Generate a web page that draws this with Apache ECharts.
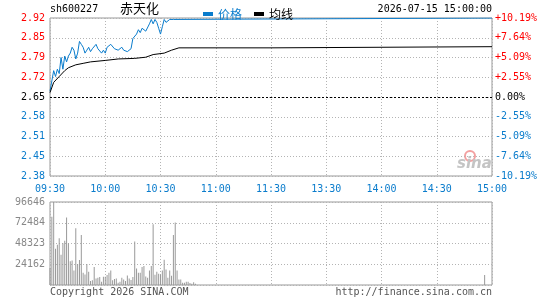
<!DOCTYPE html>
<html>
<head>
<meta charset="utf-8">
<script src="https://cdn.jsdelivr.net/npm/echarts@6/dist/echarts.min.js"></script>
<style>
  html, body { margin: 0; padding: 0; background: #fff; }
  #chart { width: 545px; height: 300px; }
</style>
</head>
<body>
<div id="chart"></div>
<script>
// 时间轴刻度 (分钟 0..240)
const timeLabels = ['09:30', '10:00', '10:30', '11:00', '11:30', '13:30', '14:00', '14:30', '15:00'];
// 价格刻度 (从下到上)
const priceLabels = ['2.38', '2.45', '2.51', '2.58', '2.65', '2.72', '2.79', '2.85', '2.92'];
const pctLabels = ['-10.19%', '-7.64%', '-5.09%', '-2.55%', '0.00%', '+2.55%', '+5.09%', '+7.64%', '+10.19%'];
// 成交量刻度
const volLabels = ['', '24162', '48323', '72484', '96646'];

const prevClose = 2.65;

// 价格线 (分钟, 价格)
const priceMinutes = [0, 1, 2, 3, 4, 5, 6, 7, 8, 9, 10, 11, 12, 13, 14, 15, 16, 17, 18, 19,
  20, 21, 22, 23, 24, 25, 26, 27, 28, 29, 30, 31, 32, 33, 34, 35, 36, 37, 38, 39,
  40, 41, 42, 43, 44, 45, 46, 47, 48, 49, 50, 51, 52, 53, 54, 55, 56, 57, 58, 59,
  60, 61, 62, 63, 64, 65, 66, 67, 68, 240];
const priceValues = [2.67, 2.665, 2.74, 2.72, 2.745, 2.73, 2.785, 2.745, 2.79, 2.77,
  2.79, 2.80, 2.82, 2.81, 2.78, 2.80, 2.84, 2.83, 2.82, 2.80,
  2.81, 2.82, 2.805, 2.815, 2.82, 2.83, 2.815, 2.82, 2.80, 2.81,
  2.80, 2.82, 2.82, 2.83, 2.83, 2.815, 2.82, 2.81, 2.815, 2.82,
  2.81, 2.815, 2.805, 2.80, 2.815, 2.85, 2.845, 2.865, 2.88, 2.87,
  2.885, 2.88, 2.875, 2.875, 2.90, 2.915, 2.90, 2.915, 2.905, 2.885,
  2.865, 2.89, 2.915, 2.905, 2.91, 2.915, 2.92, 2.915, 2.92, 2.92];

// 均线
const avgMinutes = [0, 2, 5, 8, 10, 14, 18, 22, 30, 37, 46, 52, 56, 62, 66, 70, 120, 121, 240];
const avgValues = [2.665, 2.70, 2.72, 2.74, 2.75, 2.76, 2.765, 2.77, 2.775, 2.78,
  2.782, 2.786, 2.795, 2.80, 2.81, 2.818, 2.818, 2.822, 2.822];

// 成交量 (分钟 0..79, 之后几乎为零)
const volMinutes = [0, 1, 2, 3, 4, 5, 6, 7, 8, 9, 10, 11, 12, 13, 14, 15, 16, 17, 18, 19,
  20, 21, 22, 23, 24, 25, 26, 27, 28, 29, 30, 31, 32, 33, 34, 35, 36, 37, 38, 39,
  40, 41, 42, 43, 44, 45, 46, 47, 48, 49, 50, 51, 52, 53, 54, 55, 56, 57, 58, 59,
  60, 61, 62, 63, 64, 65, 66, 67, 68, 69, 70, 71, 72, 73, 74, 75, 76, 77, 78, 79, 236];
const volValues = [19900, 79400, 96646, 42200, 46800, 54500, 35300, 48700, 51400, 78600,
  48700, 27600, 28400, 16900, 66000, 24500, 29100, 58300, 14200, 12300,
  24500, 15300, 4600, 5400, 21100, 7700, 8400, 9200, 3800, 9600,
  9600, 11500, 14200, 16900, 5400, 6900, 7700, 2700, 3800, 8400,
  6500, 4600, 11100, 7700, 5800, 9200, 50600, 19200, 14200, 14200,
  21100, 22200, 10000, 8400, 16900, 22200, 70600, 11900, 15300, 13000,
  12300, 16900, 29500, 18000, 8400, 16900, 10700, 58300, 72900, 16900,
  6500, 6500, 2700, 2700, 3800, 3800, 2300, 1500, 3100, 1500, 11500];

const BLUE = '#0a7ccc';
const RED = '#ff0000';
const MONO = 'DejaVu Sans Mono';
const gridLine = { show: true, lineStyle: { color: '#b4b4b4', type: [1, 2], width: 1 } };

const chart = echarts.init(document.getElementById('chart'));
chart.setOption({
  animation: false,
  backgroundColor: '#fff',
  grid: [
    { left: 50, right: 53, top: 18, height: 158, show: true, borderColor: '#999', borderWidth: 1 },
    { left: 50, right: 53, top: 202, height: 83, show: true, borderColor: '#999', borderWidth: 1 }
  ],
  legend: {
    left: 198, top: 3, itemWidth: 10, itemHeight: 4, itemGap: 12, icon: 'rect',
    textStyle: { fontFamily: 'Noto Sans CJK SC', fontSize: 12 },
    data: [
      { name: '价格', itemStyle: { color: BLUE }, textStyle: { color: BLUE } },
      { name: '均线', itemStyle: { color: '#000' }, textStyle: { color: '#000' } }
    ]
  },
  xAxis: [
    {
      gridIndex: 0, type: 'value', min: 0, max: 240, interval: 30,
      axisLine: { show: false }, axisTick: { show: false }, axisLabel: { show: false },
      splitLine: gridLine
    },
    {
      gridIndex: 1, type: 'value', min: 0, max: 240, interval: 30, position: 'top',
      axisLine: { show: false }, axisTick: { show: false },
      axisLabel: {
        margin: 8, color: BLUE, fontFamily: MONO, fontSize: 10,
        showMinLabel: true, showMaxLabel: true,
        formatter: (v) => timeLabels[Math.round(v / 30)]
      },
      splitLine: gridLine
    }
  ],
  yAxis: [
    // 价格数据轴 (隐藏)
    { gridIndex: 0, type: 'value', min: 2.38, max: 2.92, show: false },
    // 左侧价格刻度
    {
      gridIndex: 0, type: 'value', min: 0, max: 8, interval: 1, position: 'left',
      axisLine: { show: false }, axisTick: { show: false },
      axisLabel: {
        margin: 5, fontFamily: MONO, fontSize: 10,
        formatter: (v) => priceLabels[v],
        color: (v) => (v > 4 ? RED : v == 4 ? '#000' : BLUE)
      },
      splitLine: gridLine
    },
    // 右侧涨跌幅刻度
    {
      gridIndex: 0, type: 'value', min: 0, max: 8, interval: 1, position: 'right',
      axisLine: { show: false }, axisTick: { show: false },
      axisLabel: {
        margin: 3, fontFamily: MONO, fontSize: 10,
        formatter: (v) => pctLabels[v],
        color: (v) => (v > 4 ? RED : v == 4 ? '#000' : BLUE)
      },
      splitLine: { show: false }
    },
    // 成交量数据轴 (隐藏)
    { gridIndex: 1, type: 'value', min: 0, max: 96646, show: false },
    // 成交量刻度
    {
      gridIndex: 1, type: 'value', min: 0, max: 4, interval: 1, position: 'left',
      axisLine: { show: false }, axisTick: { show: false },
      axisLabel: {
        margin: 5, fontFamily: MONO, fontSize: 10, color: '#888',
        formatter: (v) => volLabels[v]
      },
      splitLine: gridLine
    }
  ],
  series: [
    {
      name: '价格', type: 'line', xAxisIndex: 0, yAxisIndex: 0,
      data: priceMinutes.map((m, i) => [m, priceValues[i]]),
      showSymbol: false, lineStyle: { color: BLUE, width: 1 }, itemStyle: { color: BLUE },
      markLine: {
        silent: true, symbol: 'none', label: { show: false },
        lineStyle: { color: '#000', type: [2, 2], width: 1 },
        data: [{ yAxis: prevClose }]
      }
    },
    {
      name: '均线', type: 'line', xAxisIndex: 0, yAxisIndex: 0,
      data: avgMinutes.map((m, i) => [m, avgValues[i]]),
      showSymbol: false, lineStyle: { color: '#000', width: 1 }, itemStyle: { color: '#000' }
    },
    {
      name: '成交量', type: 'bar', xAxisIndex: 1, yAxisIndex: 3,
      data: volMinutes.map((m, i) => [m, volValues[i]]),
      barWidth: 1, itemStyle: { color: '#999' }
    }
  ],
  graphic: [
    { type: 'text', left: 50, top: 4, style: { text: 'sh600227', fill: '#000', font: '10px "DejaVu Sans Mono"' } },
    { type: 'text', left: 120, top: 2, style: { text: '赤天化', fill: '#000', font: '13px "Noto Sans CJK SC"' } },
    { type: 'text', right: 53, top: 4, style: { text: '2026-07-15 15:00:00', fill: '#000', font: '10px "DejaVu Sans Mono"' } },
    { type: 'text', left: 50, top: 287, style: { text: 'Copyright 2026 SINA.COM', fill: '#555', font: '10px "DejaVu Sans Mono"' } },
    { type: 'text', right: 53, top: 287, style: { text: 'http://finance.sina.com.cn', fill: '#555', font: '10px "DejaVu Sans Mono"' } },
    { type: 'circle', shape: { cx: 470, cy: 156, r: 5 }, style: { fill: 'none', stroke: '#f3a0a0', lineWidth: 2 } },
    { type: 'text', left: 457, top: 157, style: { text: 'sina', fill: '#c4c4c4', font: 'italic bold 15px "DejaVu Sans"' } }
  ]
});
</script>
</body>
</html>
